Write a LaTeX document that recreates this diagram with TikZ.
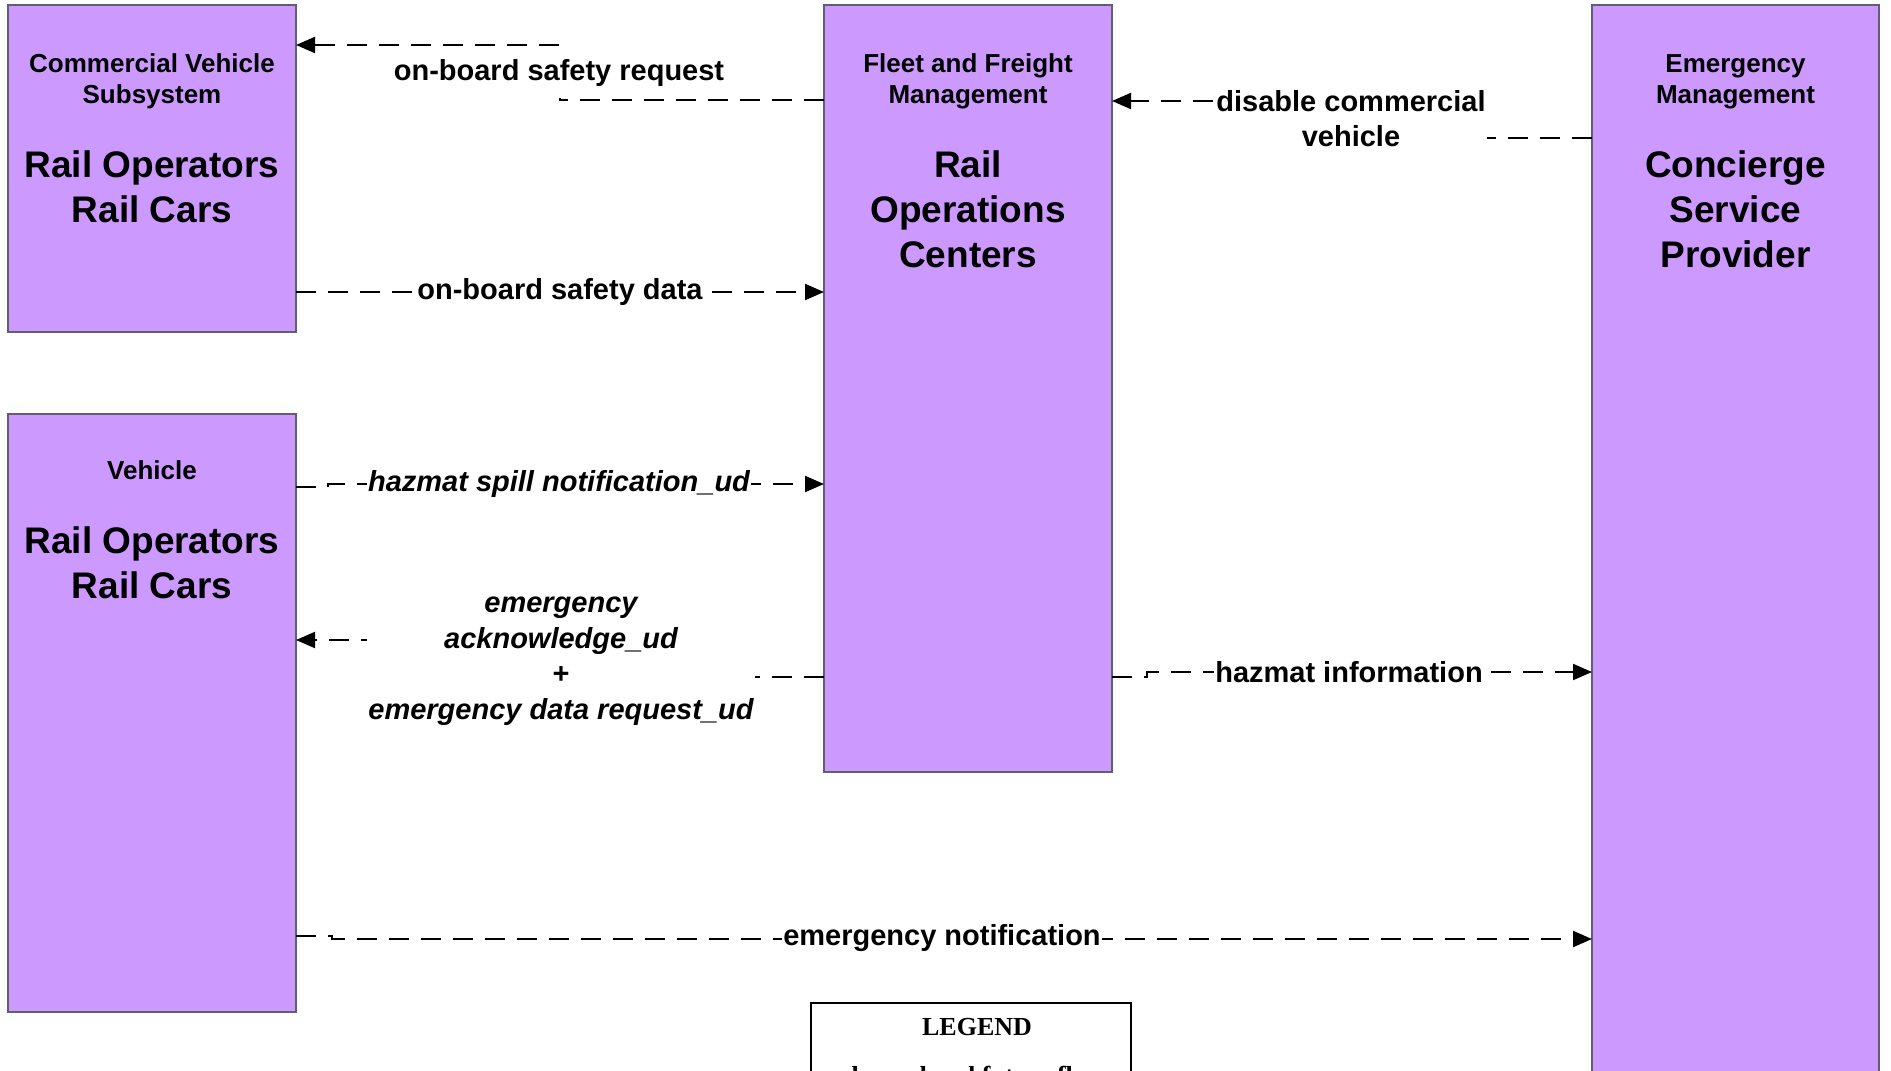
\documentclass[tikz,border=0pt]{standalone}
\usepackage{fontspec}
\setmainfont{Liberation Sans}
\newfontfamily\legendfont{Liberation Serif}
\usetikzlibrary{arrows.meta}
\definecolor{boxfill}{HTML}{CC99FF}
\definecolor{boxline}{HTML}{5F5F6F}
\begin{document}
\begin{tikzpicture}[x=1pt,y=-1pt,
  sysbox/.style={draw=boxline, line width=1.5pt, fill=boxfill, rectangle, inner sep=0pt, outer sep=0pt, anchor=north west},
  hdr/.style={font=\fontsize{26}{31}\selectfont\bfseries, anchor=base, inner sep=0pt},
  big/.style={font=\fontsize{37}{45}\selectfont\bfseries, anchor=base, inner sep=0pt},
  flow/.style={line width=2pt, dash pattern=on 20pt off 12pt, -{Triangle[length=19pt,width=16pt]}},
  lbl/.style={font=\fontsize{29}{35}\selectfont\bfseries, fill=white, inner xsep=1pt, inner ysep=2pt, align=center},
  ilbl/.style={lbl, font=\fontsize{29}{35.5}\selectfont\bfseries\itshape},
]
\useasboundingbox (0,0) rectangle (1891,1071);
\clip (0,0) rectangle (1891,1071);

% boxes
\node[sysbox, minimum width=288pt, minimum height=327pt] (cvs) at (8,5) {};
\node[sysbox, minimum width=288pt, minimum height=598pt] (veh) at (8,414) {};
\node[sysbox, minimum width=288pt, minimum height=767pt] (ffm) at (824,5) {};
\node[sysbox, minimum width=287pt, minimum height=1090pt] (em) at (1592,5) {};
\node[draw=black, line width=2.5pt, minimum width=320pt, minimum height=110pt, anchor=north west, inner sep=0pt, outer sep=0pt] (legend) at (811,1003) {};

% box texts
\node[hdr] (cvsh1) at (152,72) {Commercial Vehicle};
\node[hdr] (cvsh2) at (152,103) {Subsystem};
\node[big] (cvsb1) at (152,177) {Rail Operators};
\node[big] (cvsb2) at (152,222) {Rail Cars};

\node[hdr] (vehh1) at (152,479) {Vehicle};
\node[big] (vehb1) at (152,553) {Rail Operators};
\node[big] (vehb2) at (152,598) {Rail Cars};

\node[hdr] (ffmh1) at (968,72) {Fleet and Freight};
\node[hdr] (ffmh2) at (968,103) {Management};
\node[big] (ffmb1) at (968,177) {Rail};
\node[big] (ffmb2) at (968,222) {Operations};
\node[big] (ffmb3) at (968,267) {Centers};

\node[hdr] (emh1) at (1735.5,72) {Emergency};
\node[hdr] (emh2) at (1735.5,103) {Management};
\node[big] (emb1) at (1735.5,177) {Concierge};
\node[big] (emb2) at (1735.5,222) {Service};
\node[big] (emb3) at (1735.5,267) {Provider};

% legend
\node[anchor=base, inner sep=0pt, font=\legendfont\fontsize{26}{31}\selectfont\bfseries] (legt) at (977,1035) {LEGEND};
\node[anchor=base, inner sep=0pt, font=\legendfont\fontsize{26}{31}\selectfont\bfseries] (legl) at (971,1084) {planned and future flow};

% connectors
\coordinate (c1a) at (560,100); \coordinate (c1b) at (560,45);
\draw[flow] (ffm.west |- c1a) -- (c1a) -- (c1b) -- (cvs.east |- c1b);

\coordinate (c2) at (560,292);
\draw[flow] (cvs.east |- c2) -- (ffm.west |- c2);

\coordinate (c3a) at (1351,138); \coordinate (c3b) at (1351,101);
\draw[flow] (em.west |- c3a) -- (c3a) -- (c3b) -- (ffm.east |- c3b);

\coordinate (c4a) at (328,487); \coordinate (c4b) at (328,484);
\draw[flow] (veh.east |- c4a) -- (c4a) -- (c4b) -- (ffm.west |- c4b);

\coordinate (c5a) at (560,677); \coordinate (c5b) at (560,640);
\draw[flow] (ffm.west |- c5a) -- (c5a) -- (c5b) -- (veh.east |- c5b);

\coordinate (c6a) at (1147,677); \coordinate (c6b) at (1147,672);
\draw[flow] (ffm.east |- c6a) -- (c6a) -- (c6b) -- (em.west |- c6b);

\coordinate (c7a) at (332,936); \coordinate (c7b) at (332,939);
\draw[flow] (veh.east |- c7a) -- (c7a) -- (c7b) -- (em.west |- c7b);

% labels
\node[lbl, inner ysep=11pt] (l1) at (559,73) {on-board safety request};
\node[lbl] (l2) at (560,292) {on-board safety data};
\node[lbl] (l3) at (1351,119) {disable commercial\\vehicle};
\node[ilbl] (l4) at (559,484) {hazmat spill notification\_ud};
\node[ilbl] (l5) at (561,661) {emergency\\acknowledge\_ud\\{\upshape +}\\emergency data request\_ud};
\node[lbl] (l6) at (1349,672) {hazmat information};
\node[lbl] (l7) at (942,938) {emergency notification};
\end{tikzpicture}
\end{document}
